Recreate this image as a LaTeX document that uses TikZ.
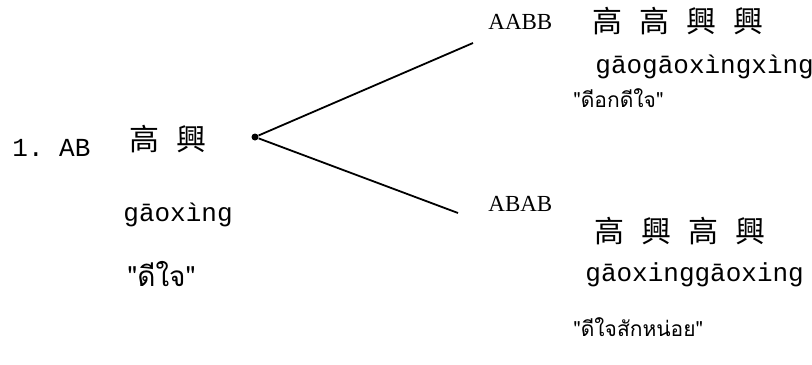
\documentclass[tikz,border=0pt]{standalone}
\usepackage{fontspec}
\setmainfont{Liberation Serif}
\setmonofont{Liberation Mono}
\newfontfamily\cjk{Noto Sans CJK TC}
\newfontfamily\thaifont[Script=Thai]{Loma}
\usetikzlibrary{positioning}

\newcommand{\hzgap}{\hspace{8.5pt}}

\begin{document}
\begin{tikzpicture}[
        x=0.5pt, y=-0.5pt,
        hz/.style={inner sep=0pt, anchor=mid west, font=\cjk\fontsize{15}{17}\selectfont},
        py/.style={inner sep=0pt, anchor=mid west, font=\ttfamily\fontsize{13}{15}\selectfont},
        th/.style={inner sep=0pt, anchor=mid west, font=\thaifont\fontsize{10.5}{13}\selectfont},
        pat/.style={inner sep=0pt, anchor=mid west, font=\fontsize{11.5}{13}\selectfont},
        branch/.style={line width=0.9pt}
        ]
        \useasboundingbox (0,0) rectangle (812,364);

        % Left: base form AB
        \node (base) [py] at (12,152) {1. AB};
        \node (baseHz) [hz] at (129,146) {高\hzgap 興};
        \node (basePy) [py] at (123,217) {gāoxìng};
        \node (baseTh) [th, font=\thaifont\fontsize{14}{16}\selectfont] at (127,282) {"ดีใจ"};

        % Split point and branches
        \node (split) [circle, fill, inner sep=0pt, minimum size=3.5pt] at (255,137) {};
        \coordinate (upEnd) at (473,43);
        \coordinate (lowEnd) at (458,213);
        \draw [branch] (split) -- (upEnd);
        \draw [branch] (split) -- (lowEnd);

        % Top branch: AABB
        \node (aabb) [pat] at (488,25) {AABB};
        \node (aabbHz) [hz] at (592,28) {高\hzgap 高\hzgap 興\hzgap 興};
        \node (aabbPy) [py] at (595,69) {gāogāoxìngxìng};
        \node (aabbTh) [th] at (573,103) {"ดีอกดีใจ"};

        % Bottom branch: ABAB
        \node (abab) [pat] at (488,207) {ABAB};
        \node (ababHz) [hz] at (594,238) {高\hzgap 興\hzgap 高\hzgap 興};
        \node (ababPy) [py] at (585,277) {gāoxinggāoxing};
        \node (ababTh) [th] at (573,332) {"ดีใจสักหน่อย"};

\end{tikzpicture}
\end{document}
